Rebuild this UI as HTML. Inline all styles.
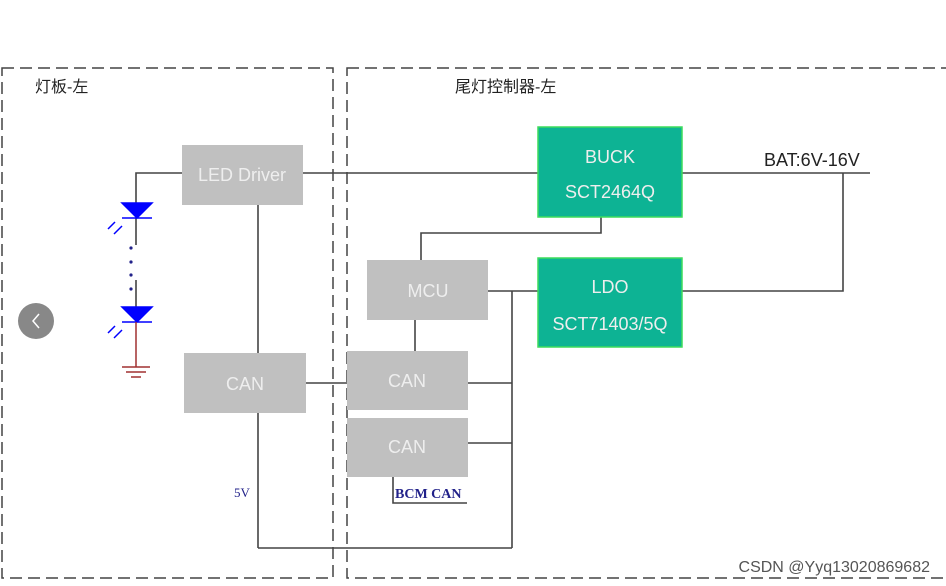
<!DOCTYPE html>
<html><head><meta charset="utf-8"><style>
html,body{margin:0;padding:0;background:#fff;width:946px;height:586px;overflow:hidden}
text{font-family:"Liberation Sans","Noto Sans CJK SC",sans-serif}
</style></head><body>
<svg width="946" height="586" viewBox="0 0 946 586" xmlns="http://www.w3.org/2000/svg">
<g fill="none" stroke="#444" stroke-width="1.5" stroke-dasharray="12,6">
<rect x="2" y="68" width="331" height="510"/>
<rect x="347" y="68" width="610" height="510"/>
</g>
<text x="35" y="92" font-size="16" fill="#222">灯板-左</text>
<text x="455" y="92" font-size="16" fill="#222">尾灯控制器-左</text>
<g stroke="#444" stroke-width="1.6" fill="none">
<polyline points="136,203 136,173 182,173"/>
<line x1="303" y1="173" x2="538" y2="173"/>
<line x1="682" y1="173" x2="870" y2="173"/>
<polyline points="843,173 843,291 682,291"/>
<polyline points="601,217 601,233 421,233 421,260"/>
<line x1="488" y1="291" x2="538" y2="291"/>
<line x1="512" y1="291" x2="512" y2="548"/>
<line x1="468" y1="383" x2="512" y2="383"/>
<line x1="468" y1="443" x2="512" y2="443"/>
<line x1="258" y1="548" x2="512" y2="548"/>
<line x1="258" y1="205" x2="258" y2="353"/>
<line x1="258" y1="413" x2="258" y2="548"/>
<line x1="306" y1="383" x2="347" y2="383"/>
<line x1="415" y1="320" x2="415" y2="351"/>
<polyline points="393,477 393,503 467,503"/>
<line x1="136" y1="218" x2="136" y2="245"/>
<line x1="136" y1="280" x2="136" y2="307"/>
</g>
<g fill="#c0c0c0">
<rect x="182" y="145" width="121" height="60"/>
<rect x="184" y="353" width="122" height="60"/>
<rect x="367" y="260" width="121" height="60"/>
<rect x="347" y="351" width="121" height="59"/>
<rect x="347" y="418" width="121" height="59"/>
</g>
<g fill="#0db394" stroke="#3ddc5c" stroke-width="1.5">
<rect x="538" y="127" width="144" height="90"/>
<rect x="538" y="258" width="144" height="89"/>
</g>
<g fill="#eee" font-size="18" text-anchor="middle">
<text x="242" y="181">LED Driver</text>
<text x="245" y="390">CAN</text>
<text x="428" y="297">MCU</text>
<text x="407" y="387">CAN</text>
<text x="407" y="453">CAN</text>
<text x="610" y="163">BUCK</text>
<text x="610" y="198">SCT2464Q</text>
<text x="610" y="293">LDO</text>
<text x="610" y="330">SCT71403/5Q</text>
</g>
<text x="764" y="166" font-size="18" fill="#222">BAT:6V-16V</text>
<text x="395" y="498" font-size="14" font-weight="bold" fill="#22228a" style="font-family:'Liberation Serif',serif">BCM CAN</text>
<text x="234" y="497" font-size="13" fill="#22228a" style="font-family:'Liberation Serif',serif">5V</text>
<g fill="#0000ff" stroke="#0000ff" stroke-width="1.5">
<polygon points="122,203 152,203 137,218"/>
<line x1="122" y1="218" x2="152" y2="218"/>
<polygon points="122,307 152,307 137,322"/>
<line x1="122" y1="322" x2="152" y2="322"/>
<line x1="115" y1="222" x2="108" y2="229"/>
<line x1="122" y1="226" x2="114" y2="234"/>
<line x1="115" y1="326" x2="108" y2="333"/>
<line x1="122" y1="330" x2="114" y2="338"/>
</g>
<g fill="#22228a">
<circle cx="131" cy="248" r="1.6"/><circle cx="131" cy="262" r="1.6"/>
<circle cx="131" cy="275" r="1.6"/><circle cx="131" cy="289" r="1.6"/>
</g>
<g stroke="#a03030" stroke-width="1.5">
<line x1="136" y1="322" x2="136" y2="367"/>
<line x1="122" y1="367" x2="150" y2="367"/>
<line x1="126" y1="372" x2="146" y2="372"/>
<line x1="131" y1="377" x2="141" y2="377"/>
</g>
<circle cx="36" cy="321" r="18" fill="#888"/>
<polyline points="39,314 33,321 39,328" fill="none" stroke="#fff" stroke-width="1.5"/>
<text x="930" y="572" font-size="16" fill="#555" text-anchor="end">CSDN @Yyq13020869682</text>
</svg>
</body></html>
